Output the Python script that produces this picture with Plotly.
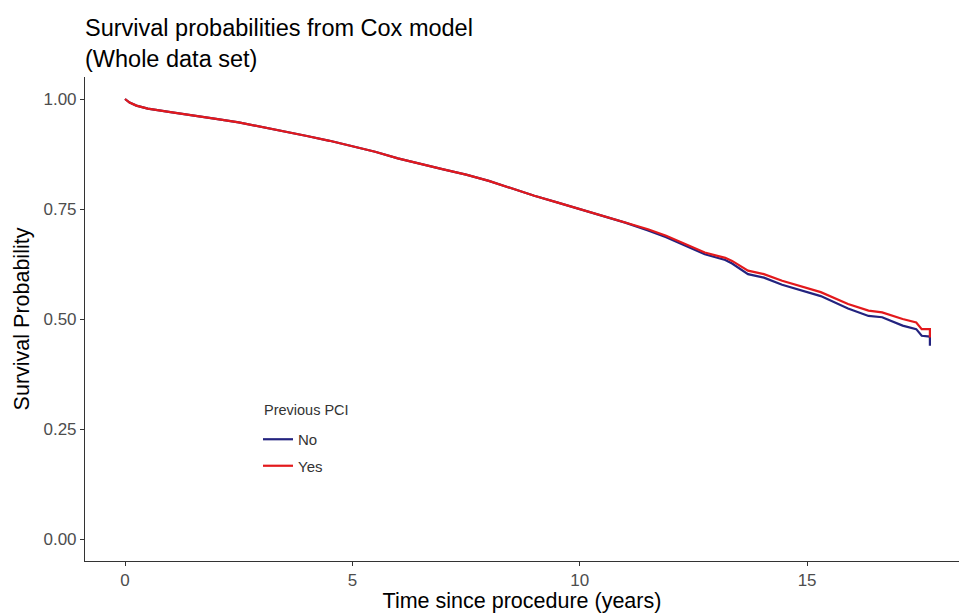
import plotly.graph_objects as go

# Time since procedure (years)
time_years = [0.00, 0.10, 0.25, 0.50, 1.00, 1.50, 2.00, 2.50, 3.00, 3.50, 4.00, 4.50,
              5.00, 5.50, 6.00, 6.50, 7.00, 7.50, 8.00, 8.50, 9.00, 9.50, 10.00, 10.50,
              11.00, 11.50, 11.90, 12.25, 12.75, 13.20, 13.35, 13.70, 14.05, 14.45,
              14.90, 15.30, 15.90, 16.35, 16.65, 17.10, 17.40, 17.52, 17.70, 17.70]

# Survival probability, Previous PCI = No
surv_no = [1.000, 0.992, 0.985, 0.978, 0.970, 0.963, 0.955, 0.947, 0.937, 0.926, 0.916, 0.905,
           0.893, 0.880, 0.865, 0.852, 0.840, 0.828, 0.814, 0.797, 0.780, 0.765, 0.750, 0.734,
           0.719, 0.701, 0.686, 0.670, 0.647, 0.634, 0.626, 0.602, 0.594, 0.578,
           0.565, 0.552, 0.524, 0.507, 0.504, 0.485, 0.477, 0.462, 0.460, 0.439]

# Survival probability, Previous PCI = Yes
surv_yes = [1.000, 0.992, 0.985, 0.978, 0.970, 0.963, 0.955, 0.947, 0.937, 0.926, 0.916, 0.905,
            0.893, 0.880, 0.865, 0.852, 0.840, 0.828, 0.814, 0.797, 0.780, 0.765, 0.750, 0.734,
            0.720, 0.704, 0.689, 0.674, 0.651, 0.639, 0.632, 0.610, 0.602, 0.587,
            0.574, 0.561, 0.534, 0.519, 0.515, 0.500, 0.492, 0.477, 0.477, 0.458]

group_labels = ["No", "Yes"]
group_colors = ["#23237F", "#E3191C"]

x_ticks = [0, 5, 10, 15]
y_ticks = [0.00, 0.25, 0.50, 0.75, 1.00]

fig = go.Figure()
for name, ys, col in zip(group_labels, [surv_no, surv_yes], group_colors):
    fig.add_trace(go.Scatter(
        x=time_years, y=ys, mode="lines", name=name, legendgroup=name,
        line=dict(color=col, width=2.2),
    ))

FONT = "Liberation Sans, Arial, sans-serif"
axis_common = dict(
    showgrid=False, zeroline=False, showline=True, linecolor="#333333", linewidth=1.1,
    ticks="outside", ticklen=4, tickcolor="#333333", tickwidth=1.1,
    tickfont=dict(family=FONT, size=17, color="#4D4D4D"),
)

fig.update_layout(
    width=959, height=613,
    margin=dict(l=85, r=0, t=77, b=52),
    paper_bgcolor="white", plot_bgcolor="white",
    font=dict(family=FONT, color="black"),
    title=dict(
        text="Survival probabilities from Cox model<br>(Whole data set)",
        font=dict(family=FONT, size=23.5, color="black"),
        x=85 / 959, xanchor="left", xref="container",
        y=1 - 36 / 613, yanchor="top", yref="container",
    ),
    xaxis=dict(
        range=[-0.88, 18.34], tickvals=x_ticks, ticktext=[str(v) for v in x_ticks],
        title=dict(text="Time since procedure (years)", font=dict(family=FONT, size=21.5, color="black"), standoff=8),
        **axis_common,
    ),
    yaxis=dict(
        range=[-0.05, 1.05], tickvals=y_ticks, ticktext=[f"{v:.2f}" for v in y_ticks],
        title=dict(text="Survival Probability", font=dict(family=FONT, size=21.5, color="black"), standoff=7),
        **axis_common,
    ),
    legend=dict(
        x=(258 - 85) / 874, y=(561 - 423) / 484, xanchor="left", yanchor="top",
        font=dict(family=FONT, size=15, color="#333333"),
        bgcolor="rgba(0,0,0,0)", tracegroupgap=4,
    ),
    annotations=[dict(
        text="Previous PCI", xref="paper", yref="paper",
        x=(262 - 85) / 874, y=(561 - 410) / 484, xanchor="left", yanchor="middle",
        showarrow=False, font=dict(family=FONT, size=14.5, color="#333333"),
    )],
    showlegend=True,
)

fig.write_html("out.html")
